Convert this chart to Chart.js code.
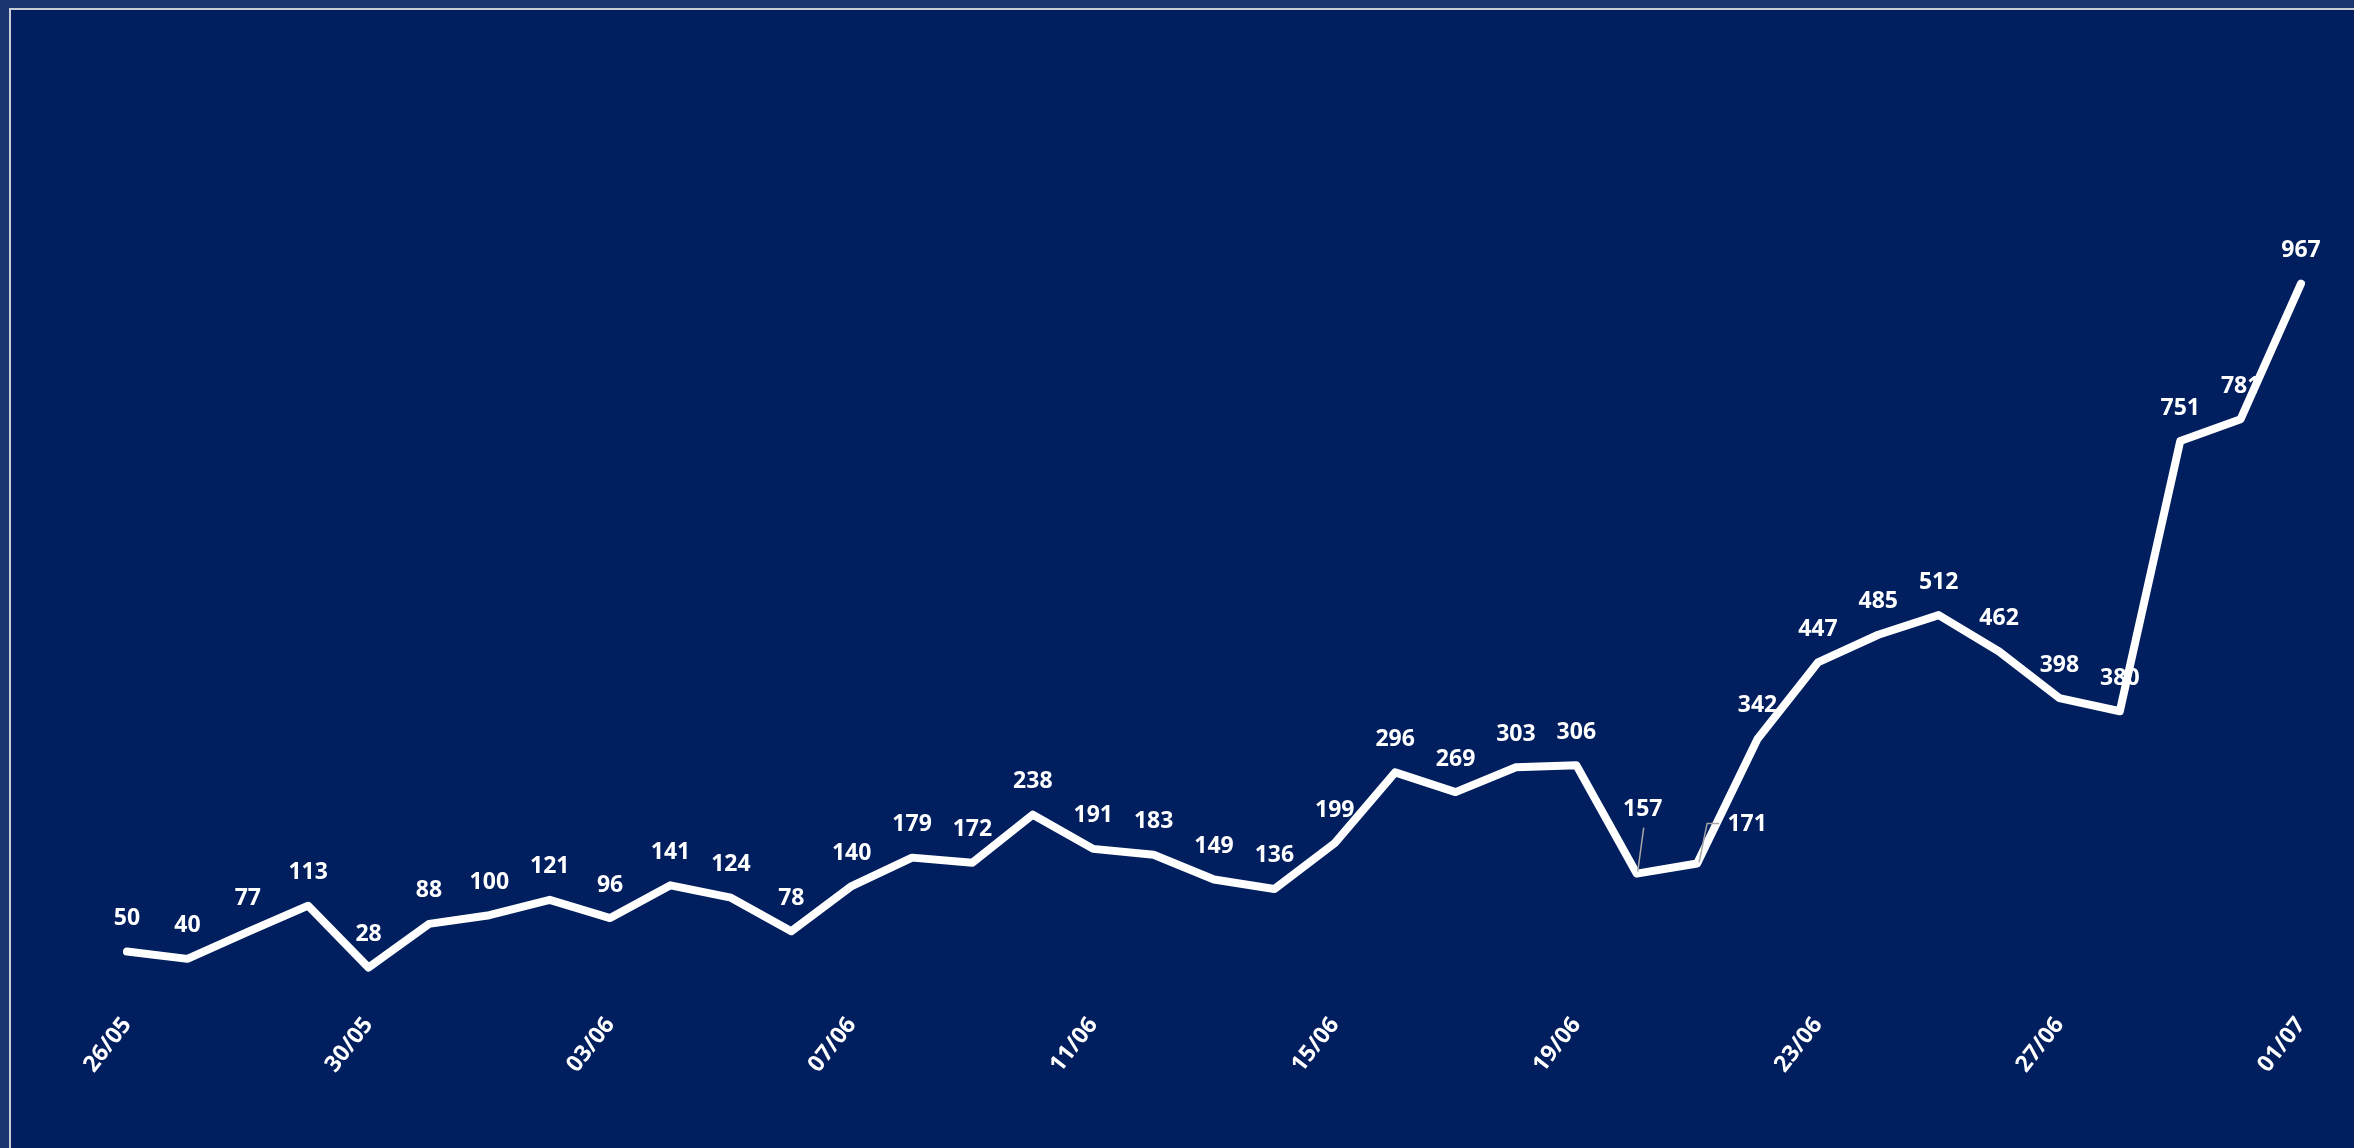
<!DOCTYPE html>
<html>
<head>
<meta charset="utf-8">
<script src="https://cdn.jsdelivr.net/npm/chart.js@4/dist/chart.umd.min.js"></script>
<style>
  html, body { margin: 0; padding: 0; width: 2354px; height: 1148px; overflow: hidden; background: #1b3571; }
  #frame { position: absolute; left: 9px; top: 8px; width: 2400px; height: 1200px;
           border-left: 2px solid #c8ccd4; border-top: 2px solid #c8ccd4; background: #011f5e; }
  #wrap { position: absolute; left: 0; top: 0; width: 2354px; height: 1148px; }
</style>
</head>
<body>
<div id="frame"></div>
<div id="wrap"><canvas id="c" width="2354" height="1148"></canvas></div>
<script>
const categories = [
  '26/05','27/05','28/05','29/05','30/05','31/05',
  '01/06','02/06','03/06','04/06','05/06','06/06','07/06','08/06','09/06','10/06',
  '11/06','12/06','13/06','14/06','15/06','16/06','17/06','18/06','19/06','20/06',
  '21/06','22/06','23/06','24/06','25/06','26/06','27/06','28/06','29/06','30/06','01/07'
];
const values = [
  50, 40, 77, 113, 28, 88, 100, 121, 96, 141, 124, 78, 140, 179, 172, 238, 191, 183, 149, 136,
  199, 296, 269, 303, 306, 157, 171, 342, 447, 485, 512, 462, 398, 380, 751, 781, 967
];
const tickEvery = 4;

const labelPlugin = {
  id: 'valueLabels',
  afterDatasetsDraw(chart, args, opts) {
    const ctx = chart.ctx;
    const meta = chart.getDatasetMeta(0);
    ctx.save();
    ctx.font = opts.font;
    ctx.fillStyle = opts.color;
    ctx.textAlign = 'center';
    ctx.textBaseline = 'middle';
    meta.data.forEach((pt, i) => {
      const v = chart.data.datasets[0].data[i];
      const ov = (opts.overrides || {})[i];
      let x = pt.x, y = pt.y - opts.offset;
      if (ov) {
        x = pt.x + ov.dx; y = pt.y + ov.dy;
        if (ov.leader) {
          ctx.save();
          ctx.strokeStyle = opts.leaderColor;
          ctx.lineWidth = 1.5;
          ctx.beginPath();
          ov.leader.forEach((p, k) => {
            const px = pt.x + p[0], py = pt.y + p[1];
            if (k === 0) ctx.moveTo(px, py); else ctx.lineTo(px, py);
          });
          ctx.stroke();
          ctx.restore();
        }
      }
      ctx.fillText(String(v), x, y);
    });
    ctx.restore();
  }
};

new Chart(document.getElementById('c'), {
  type: 'line',
  data: {
    labels: categories,
    datasets: [{
      data: values,
      borderColor: '#ffffff',
      borderWidth: 8,
      borderCapStyle: 'round',
      borderJoinStyle: 'round',
      pointRadius: 0,
      pointHoverRadius: 0,
      tension: 0,
      fill: false
    }]
  },
  options: {
    responsive: false,
    animation: false,
    events: [],
    layout: { padding: { left: 127, right: 53, top: 114, bottom: 0 } },
    plugins: {
      legend: { display: false },
      tooltip: { enabled: false },
      valueLabels: {
        font: 'bold 23px "Open Sans"',
        color: '#ffffff',
        offset: 33,
        leaderColor: '#a6a6a6',
        overrides: {
          25: { dx: 6, dy: -64, leader: [[7, -46], [1, -2]] },
          26: { dx: 50, dy: -39, leader: [[22, -40], [10, -40], [2, -1]] }
        }
      }
    },
    scales: {
      x: {
        type: 'category',
        offset: false,
        grid: { display: false },
        border: { display: false },
        ticks: {
          autoSkip: false,
          maxRotation: 52,
          minRotation: 52,
          padding: 16,
          color: '#ffffff',
          font: { family: 'Open Sans', size: 23, weight: 'bold' },
          callback: function(val, idx) { return idx % tickEvery === 0 ? categories[idx] : null; }
        },
        afterFit: function(s) { s.paddingLeft = 0; s.paddingRight = 0; s.height = 160; }
      },
      y: {
        display: false,
        min: 0,
        max: 1200
      }
    }
  },
  plugins: [labelPlugin]
});
</script>
</body>
</html>
